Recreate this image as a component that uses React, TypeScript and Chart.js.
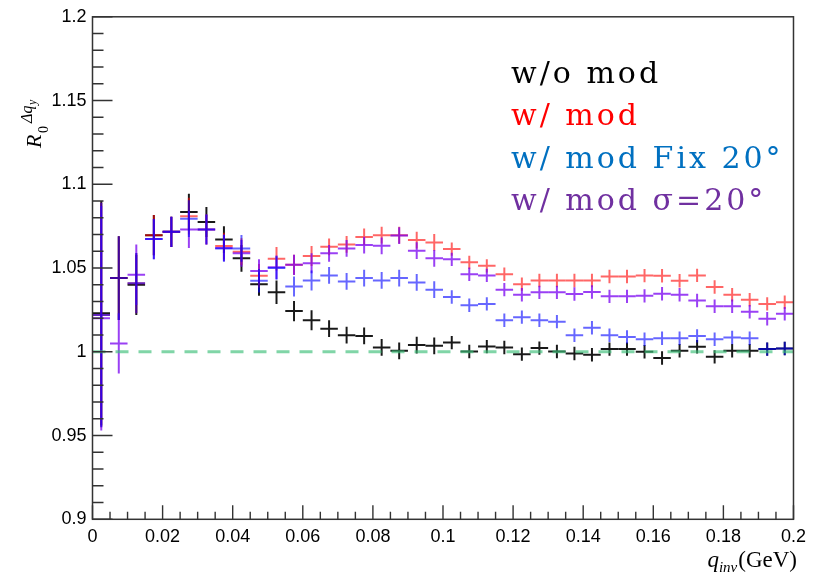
import React, { useEffect, useRef } from 'react';
import { Chart, registerables } from 'chart.js';

Chart.register(...registerables);

// q_inv bin centres (GeV), bin width 0.005
const qBins = [
  0.0025, 0.0075, 0.0125, 0.0175, 0.0225, 0.0275, 0.0325, 0.0375, 0.0425, 0.0475,
  0.0525, 0.0575, 0.0625, 0.0675, 0.0725, 0.0775, 0.0825, 0.0875, 0.0925, 0.0975,
  0.1025, 0.1075, 0.1125, 0.1175, 0.1225, 0.1275, 0.1325, 0.1375, 0.1425, 0.1475,
  0.1525, 0.1575, 0.1625, 0.1675, 0.1725, 0.1775, 0.1825, 0.1875, 0.1925, 0.1975,
];
const binHalfWidth = 0.0025;

const woMod = [
  1.023, 1.044, 1.040, 1.0696, 1.0716, 1.0834, 1.0775, 1.067, 1.0558, 1.0404,
  1.0355, 1.0243, 1.0188, 1.0138, 1.0099, 1.0095, 1.0026, 1.0006, 1.004, 1.0036,
  1.0055, 1.0002, 1.0031, 1.0026, 0.9986, 1.0022, 1.0002, 0.999, 0.9982, 1.0016,
  1.0016, 1.0, 0.9963, 1.0006, 1.003, 0.997, 1.0006, 1.0006, 1.0016, 1.002,
];
const wMod = [
  1.022, 1.044, 1.041, 1.0696, 1.0716, 1.081, 1.073, 1.0631, 1.0598, 1.0454,
  1.0556, 1.052, 1.0572, 1.0627, 1.0641, 1.0686, 1.0696, 1.0696, 1.0667, 1.0653,
  1.0613, 1.0534, 1.0513, 1.0463, 1.0404, 1.0426, 1.0426, 1.0426, 1.0426, 1.045,
  1.045, 1.0455, 1.0454, 1.0424, 1.0456, 1.0387, 1.0341, 1.0311, 1.0286, 1.0296,
];
const wModFix20 = [
  1.022, 1.044, 1.041, 1.0673, 1.0716, 1.0795, 1.073, 1.0617, 1.0617, 1.0424,
  1.050, 1.039, 1.0426, 1.0456, 1.042, 1.044, 1.0426, 1.044, 1.0414, 1.0371,
  1.0327, 1.0278, 1.0286, 1.0188, 1.0207, 1.0188, 1.018, 1.0099, 1.0144, 1.0099,
  1.0089, 1.0075, 1.0081, 1.0081, 1.0095, 1.0075, 1.0085, 1.0081, 1.0016, 1.002,
];
const wModSigma20 = [
  1.020, 1.005, 1.046, 1.0673, 1.0716, 1.073, 1.073, 1.062, 1.0588, 1.0483,
  1.0505, 1.0519, 1.0529, 1.0588, 1.0617, 1.0637, 1.0633, 1.0694, 1.0604, 1.0558,
  1.0552, 1.0463, 1.0456, 1.0371, 1.0341, 1.0355, 1.0355, 1.0345, 1.0357, 1.0331,
  1.0331, 1.0334, 1.0347, 1.0341, 1.0306, 1.0272, 1.0272, 1.0239, 1.0197, 1.0227,
];
// statistical error per bin
const binErrors = [
  0.067, 0.025, 0.018, 0.012, 0.009, 0.011, 0.009, 0.008, 0.008, 0.007,
  0.007, 0.006, 0.006, 0.005, 0.005, 0.005, 0.005, 0.005, 0.005, 0.005,
  0.004, 0.004, 0.004, 0.004, 0.004, 0.004, 0.004, 0.004, 0.004, 0.004,
  0.004, 0.004, 0.004, 0.004, 0.004, 0.004, 0.004, 0.004, 0.004, 0.004,
];
const sigma20Errors = [
  0.067, 0.018, 0.018, 0.012, 0.009, 0.011, 0.009, 0.008, 0.008, 0.007,
  0.007, 0.006, 0.006, 0.005, 0.005, 0.005, 0.005, 0.005, 0.005, 0.005,
  0.004, 0.004, 0.004, 0.004, 0.004, 0.004, 0.004, 0.004, 0.004, 0.004,
  0.004, 0.004, 0.004, 0.004, 0.004, 0.004, 0.004, 0.004, 0.004, 0.004,
];

const xTickLabels = ['0', '0.02', '0.04', '0.06', '0.08', '0.1', '0.12', '0.14', '0.16', '0.18', '0.2'];
const yTickLabels = ['0.9', '0.95', '1', '1.05', '1.1', '1.15', '1.2'];

const legendLabels = ['w/o mod', 'w/ mod', 'w/ mod Fix 20°', 'w/ mod σ=20°'];
const legendColors = ['#000000', '#ff0000', '#0070c0', '#7030a0'];

const seriesValues = [woMod, wMod, wModFix20, wModSigma20];
const seriesErrors = [binErrors, binErrors, binErrors, sigma20Errors];
const crossColors = ['rgba(0,0,0,0.9)', 'rgba(255,0,0,0.6)', 'rgba(0,0,255,0.6)', 'rgba(120,0,240,0.75)'];
// painting order of the histograms (later ones end up on top)
const paintOrder = [0, 1, 3, 2];

const referenceLevel = 1;

const histCrosses = {
  id: 'histCrosses',
  beforeDatasetsDraw(chart: any) {
    const { ctx, chartArea, scales } = chart;
    const x = scales.x;
    const y = scales.y;
    ctx.save();
    ctx.beginPath();
    ctx.rect(chartArea.left, chartArea.top, chartArea.right - chartArea.left, chartArea.bottom - chartArea.top);
    ctx.clip();
    ctx.lineWidth = 2;
    paintOrder.forEach((i) => {
      const ds: any = chart.data.datasets[i];
      if (!ds || !ds.errors) return;
      ctx.strokeStyle = ds.crossColor;
      ds.data.forEach((p: any, j: number) => {
        const xl = x.getPixelForValue(p.x - binHalfWidth);
        const xr = x.getPixelForValue(p.x + binHalfWidth);
        const xc = x.getPixelForValue(p.x);
        const yc = y.getPixelForValue(p.y);
        const yt = y.getPixelForValue(p.y + ds.errors[j]);
        const yb = y.getPixelForValue(p.y - ds.errors[j]);
        ctx.beginPath();
        ctx.moveTo(xl, yc);
        ctx.lineTo(xr, yc);
        ctx.moveTo(xc, yt);
        ctx.lineTo(xc, yb);
        ctx.stroke();
      });
    });
    ctx.restore();
  },
};

const frameAndText = {
  id: 'frameAndText',
  afterDraw(chart: any) {
    const { ctx, chartArea, scales } = chart;
    const x = scales.x;
    const y = scales.y;
    const { left, right, top, bottom } = chartArea;
    ctx.save();

    // frame
    ctx.strokeStyle = '#333';
    ctx.lineWidth = 1.5;
    ctx.strokeRect(left, top, right - left, bottom - top);

    // inward ticks
    ctx.lineWidth = 1.4;
    ctx.beginPath();
    for (let k = 0; k <= 30; k++) {
      const py = y.getPixelForValue(0.9 + k * 0.01);
      const len = k % 5 === 0 ? 20 : 11;
      ctx.moveTo(left, py);
      ctx.lineTo(left + len, py);
    }
    for (let k = 0; k <= 40; k++) {
      const px = x.getPixelForValue(k * 0.005);
      const len = k % 4 === 0 ? 14 : 7.5;
      ctx.moveTo(px, bottom);
      ctx.lineTo(px, bottom - len);
    }
    ctx.stroke();

    // y-axis title: R_0^{Δq_y}
    ctx.save();
    ctx.translate(41, 148);
    ctx.rotate(-Math.PI / 2);
    ctx.fillStyle = '#000';
    ctx.textBaseline = 'alphabetic';
    ctx.textAlign = 'left';
    ctx.font = 'italic 22px "Liberation Serif"';
    ctx.fillText('R', 0, 0);
    ctx.font = '14px "Liberation Serif"';
    ctx.fillText('0', 15, 7);
    ctx.font = 'italic 16px "Liberation Serif"';
    ctx.fillText('Δq', 25, -9);
    const w = ctx.measureText('Δq').width;
    ctx.font = 'italic 12px "Liberation Serif"';
    ctx.fillText('y', 25 + w + 0.5, -5);
    ctx.restore();

    // x-axis title: q_inv(GeV)
    ctx.fillStyle = '#000';
    ctx.textBaseline = 'alphabetic';
    ctx.textAlign = 'left';
    ctx.font = '23px "Liberation Serif"';
    const unit = '(GeV)';
    const unitW = ctx.measureText(unit).width;
    const unitX = 797 - unitW;
    ctx.fillText(unit, unitX, 567);
    ctx.font = 'italic 15px "Liberation Serif"';
    const subW = ctx.measureText('inv').width;
    const subX = unitX - subW - 1;
    ctx.fillText('inv', subX, 572);
    ctx.font = 'italic 23px "Liberation Serif"';
    const qW = ctx.measureText('q').width;
    ctx.fillText('q', subX - qW, 567);

    // legend text
    ctx.font = '30px "DejaVu Serif"';
    (ctx as any).letterSpacing = '3px';
    legendLabels.forEach((label, i) => {
      ctx.fillStyle = legendColors[i];
      ctx.fillText(label, 511, 83 + i * 42.3);
    });
    (ctx as any).letterSpacing = '0px';

    ctx.restore();
  },
};

export default function App() {
  const canvasRef = useRef<HTMLCanvasElement | null>(null);

  useEffect(() => {
    const canvas = canvasRef.current;
    if (!canvas) return;

    const histDatasets = seriesValues.map((vals, i) => ({
      label: legendLabels[i],
      data: qBins.map((q, j) => ({ x: q, y: vals[j] })),
      errors: seriesErrors[i],
      crossColor: crossColors[i],
      pointRadius: 0,
      pointHoverRadius: 0,
      showLine: false,
      borderColor: crossColors[i],
    }));

    const chart = new Chart(canvas, {
      type: 'scatter',
      data: {
        datasets: [
          ...histDatasets,
          {
            label: 'reference',
            data: [
              { x: 0, y: referenceLevel },
              { x: 0.2, y: referenceLevel },
            ],
            showLine: true,
            borderColor: 'rgba(60,190,120,0.65)',
            borderWidth: 3,
            borderDash: [13, 10],
            pointRadius: 0,
            order: -1,
          } as any,
        ],
      },
      options: {
        animation: false,
        responsive: false,
        devicePixelRatio: 1,
        events: [],
        layout: { padding: { left: 0, top: 13, right: 15.5, bottom: 0 } },
        plugins: {
          legend: { display: false },
          tooltip: { enabled: false },
        },
        scales: {
          x: {
            type: 'linear',
            min: 0,
            max: 0.2,
            grid: { display: false, drawTicks: false },
            border: { display: false },
            ticks: {
              stepSize: 0.02,
              padding: 7,
              maxRotation: 0,
              autoSkip: false,
              color: '#000',
              font: { family: '"Liberation Sans"', size: 18 },
              callback: (_v: any, idx: number) => xTickLabels[idx],
            },
            afterFit: (scale: any) => {
              scale.height = 60.7;
            },
          },
          y: {
            type: 'linear',
            min: 0.9,
            max: 1.2,
            grid: { display: false, drawTicks: false },
            border: { display: false },
            ticks: {
              stepSize: 0.05,
              padding: 6,
              autoSkip: false,
              color: '#000',
              font: { family: '"Liberation Sans"', size: 18 },
              callback: (_v: any, idx: number) => yTickLabels[idx],
            },
            afterFit: (scale: any) => {
              scale.width = 92.5;
            },
          },
        },
      } as any,
      plugins: [histCrosses, frameAndText],
    });

    return () => {
      chart.destroy();
    };
  }, []);

  return (
    <div style={{ position: 'absolute', left: 0, top: 0, width: 813, height: 580, background: '#fff' }}>
      <canvas ref={canvasRef} width={813} height={580} />
    </div>
  );
}
